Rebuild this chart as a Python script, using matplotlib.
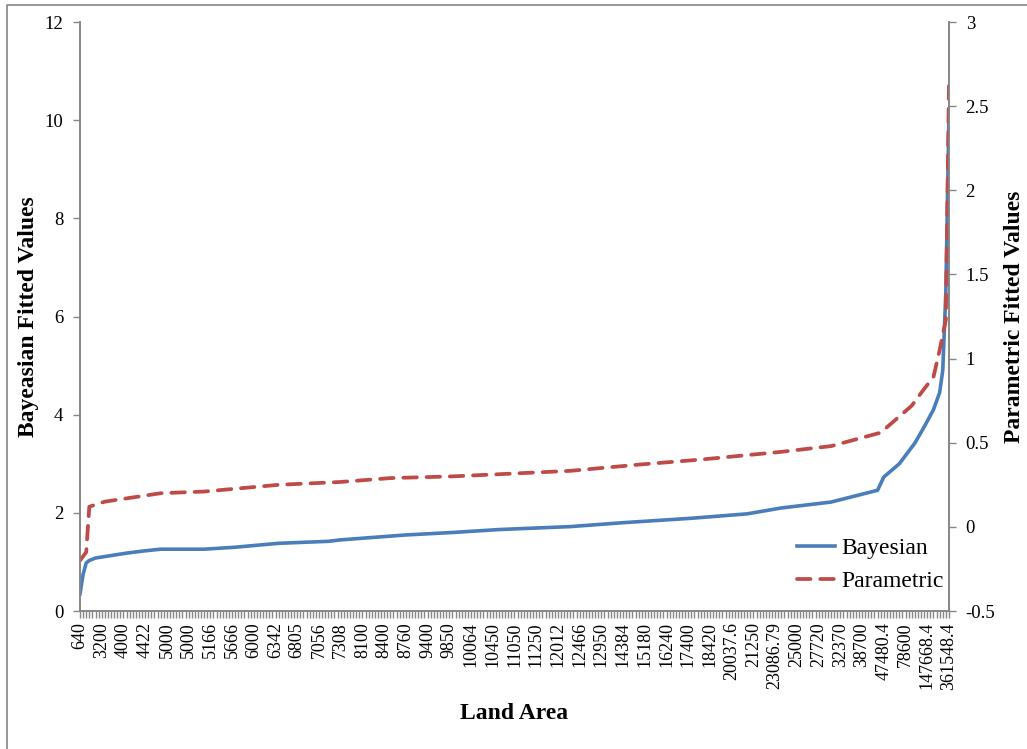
import matplotlib.pyplot as plt
from matplotlib.lines import Line2D

plt.rcParams['font.family'] = ['Liberation Serif', 'DejaVu Serif']

# Etiquetas del eje de categorias (una cada 7 categorias)
land_area_labels = ['640', '3200', '4000', '4422', '5000', '5000', '5166', '5666',
                    '6000', '6342', '6805', '7056', '7308', '8100', '8400', '8760',
                    '9400', '9850', '10064', '10450', '11050', '11250', '12012',
                    '12466', '12950', '14384', '15180', '16240', '17400', '18420',
                    '20037.6', '21250', '23086.79', '25000', '27720', '32370',
                    '38700', '47480.4', '78600', '147668.4', '361548.4']
n_categorias = 281
paso_etiqueta = 7

# Valores ajustados (indice de categoria, valor)
bayes_idx = [0, 1, 2, 3, 5, 9, 15, 20, 26, 40, 50, 64, 80, 84, 105, 120, 135,
             158, 175, 197, 215, 226, 242, 257, 259, 264, 269, 272, 275, 277,
             278, 279, 280]
bayes_vals = [0.35, 0.75, 0.98, 1.03, 1.08, 1.12, 1.18, 1.22, 1.26, 1.26, 1.30,
              1.38, 1.42, 1.45, 1.55, 1.60, 1.66, 1.72, 1.80, 1.89, 1.98, 2.10,
              2.22, 2.46, 2.73, 3.00, 3.42, 3.75, 4.10, 4.45, 4.90, 6.50, 10.1]

param_idx = [0, 2, 3, 8, 26, 40, 64, 84, 100, 120, 158, 180, 200, 226, 242,
             258, 263, 268, 272, 275, 277, 279, 280]
param_vals = [-0.20, -0.15, 0.12, 0.15, 0.20, 0.21, 0.25, 0.267, 0.29, 0.30,
              0.333, 0.37, 0.40, 0.446, 0.48, 0.56, 0.64, 0.72, 0.82, 0.89,
              1.05, 1.23, 2.62]

gris = '#868686'
azul = '#4A7EBB'
rojo = '#BE4B48'

fig = plt.figure(figsize=(10.27, 7.49), dpi=100)
ax1 = fig.add_axes([0.0779, 0.1842, 0.924 - 0.0779, 0.9706 - 0.1842])
ax2 = ax1.twinx()

l1, = ax1.plot(bayes_idx, bayes_vals, color=azul, lw=2.6, label='Bayesian',
               solid_joinstyle='round')
l2, = ax2.plot(param_idx, param_vals, color=rojo, lw=2.7, label='Parametric',
               dashes=(3.6, 2.6), dash_capstyle='round')

ax1.set_xlim(0, n_categorias - 1)
ax1.set_ylim(0, 12)
ax2.set_ylim(-0.5, 3)
ax1.set_yticks(range(0, 13, 2))
ax2.set_yticks([-0.5, 0, 0.5, 1, 1.5, 2, 2.5, 3])
ax2.set_yticklabels(['-0.5', '0', '0.5', '1', '1.5', '2', '2.5', '3'])

ax1.set_xticks(range(0, n_categorias, paso_etiqueta))
ax1.set_xticklabels(land_area_labels, rotation=90, fontsize=13)
ax1.set_xticks(range(n_categorias), minor=True)

for ax in (ax1, ax2):
    ax.spines['top'].set_visible(False)
    for s in ('left', 'right', 'bottom'):
        ax.spines[s].set_color(gris)
        ax.spines[s].set_linewidth(1.2)
    ax.tick_params(axis='y', colors=gris, labelcolor='black', labelsize=13.5,
                   length=5, width=1, pad=7)
ax1.tick_params(axis='x', which='both', colors=gris, labelcolor='black',
                length=5, width=1, pad=3)

ax1.set_xlabel('Land Area', fontsize=17, fontweight='bold', labelpad=10)
ax1.set_ylabel('Bayeasian Fitted Values', fontsize=17, fontweight='bold', labelpad=4)
ax2.set_ylabel('Parametric Fitted Values', fontsize=17, fontweight='bold', labelpad=6)

ax2.legend(handles=[l1, l2], loc='lower right', frameon=False, fontsize=17,
           handlelength=1.6, handletextpad=0.3, labelspacing=0.5,
           borderaxespad=0.1, bbox_to_anchor=(1.008, 0.012))

# Borde del area del grafico
fig.add_artist(Line2D([7 / 1027, 7 / 1027, 1.0], [0.0, 1 - 5 / 749, 1 - 5 / 749],
                      transform=fig.transFigure, color=gris, lw=1.2))

fig.savefig('out.png', dpi=100)
